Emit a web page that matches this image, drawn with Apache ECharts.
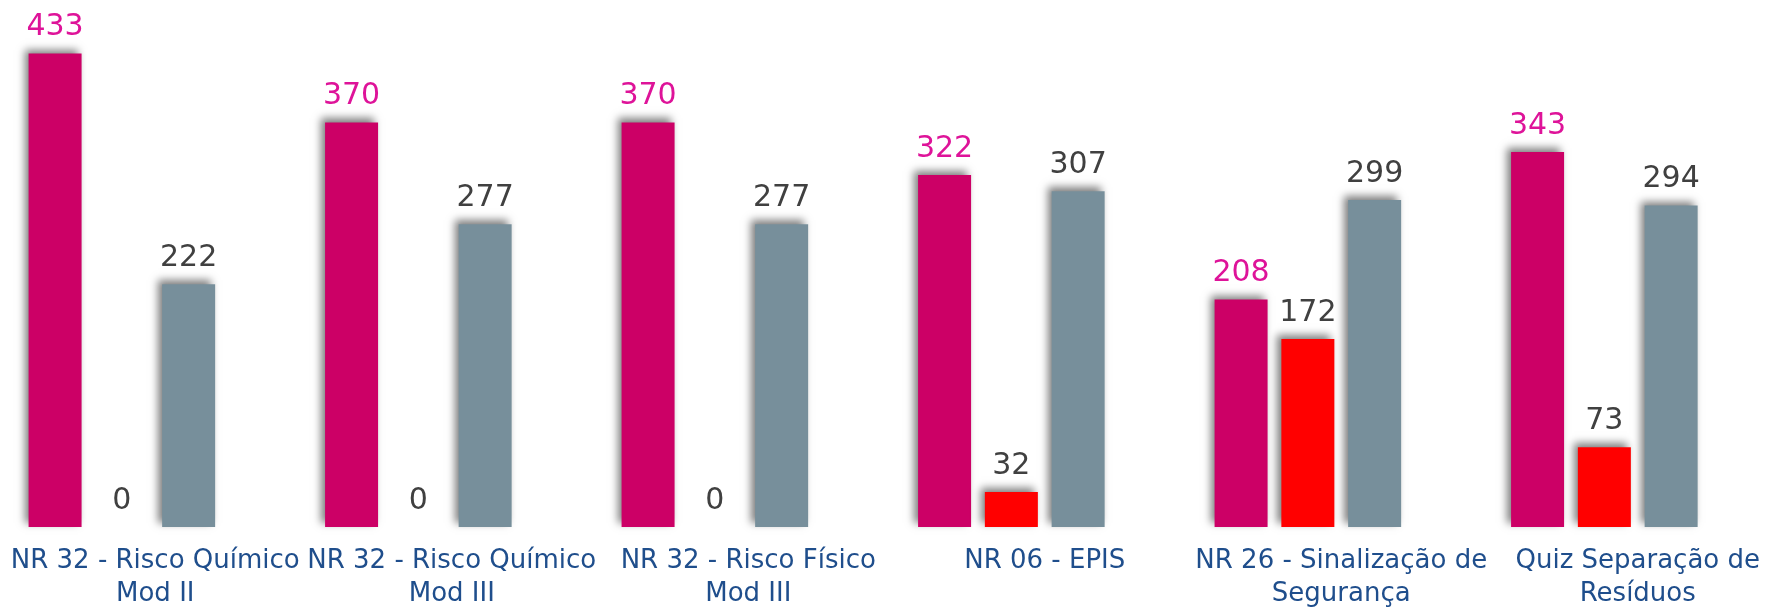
<!DOCTYPE html>
<html>
<head>
<meta charset="utf-8">
<script src="https://cdn.jsdelivr.net/npm/echarts@6/dist/echarts.min.js"></script>
<style>
  html, body { margin: 0; padding: 0; background: #fff; }
  #chart_main { width: 1767px; height: 607px; }
</style>
</head>
<body>
<div id="chart_main"></div>
<script>
var fontsty = 'DejaVu Sans';
var categories = [
  'NR 32 - Risco Químico\nMod II',
  'NR 32 - Risco Químico\nMod III',
  'NR 32 - Risco Físico\nMod III',
  'NR 06 - EPIS',
  'NR 26 - Sinalização de\nSegurança',
  'Quiz Separação de\nResíduos'
];
var data_pink = [433, 370, 370, 322, 208, 343];
var data_red = [0, 0, 0, 32, 172, 73];
var data_grey = [222, 277, 277, 307, 299, 294];
var data_empty = [null, null, null, null, null, null];

var myChart = echarts.init(document.getElementById('chart_main'));

function barItem(color) {
  return {
    color: color,
    shadowColor: 'rgba(0,0,0,0.5)',
    shadowBlur: 8,
    shadowOffsetX: -4,
    shadowOffsetY: -4
  };
}
function barLabel(color) {
  return {
    show: true,
    position: 'top',
    distance: 11,
    color: color,
    fontSize: 30,
    fontFamily: fontsty,
    fontWeight: 'normal'
  };
}

var option = {
  animation: false,
  grid: { left: 7, width: 1779, top: 0, bottom: 80, outerBoundsMode: 'none', containLabel: false },
  xAxis: {
    type: 'category',
    data: categories,
    axisLine: { show: false },
    axisTick: { show: false },
    axisLabel: {
      interval: 0,
      margin: 18,
      color: '#1F4E8C',
      fontSize: 26,
      lineHeight: 33,
      fontFamily: fontsty
    }
  },
  yAxis: {
    type: 'value',
    min: 0,
    max: 482,
    show: false,
    splitLine: { show: false }
  },
  series: [
    { name: 'a', type: 'bar', barWidth: 53, barGap: '26%', data: data_pink,
      itemStyle: barItem('#CC0066'), label: barLabel('#DE1399') },
    { name: 'b', type: 'bar', barWidth: 53, barGap: '26%', data: data_red,
      itemStyle: barItem('#FF0000'), label: barLabel('#404040') },
    { name: 'c', type: 'bar', barWidth: 53, barGap: '26%', data: data_grey,
      itemStyle: barItem('#778F9B'), label: barLabel('#404040') },
    { name: 'd', type: 'bar', barWidth: 53, barGap: '26%', data: data_empty,
      itemStyle: { color: 'transparent' } }
  ]
};
myChart.setOption(option);
</script>
</body>
</html>
